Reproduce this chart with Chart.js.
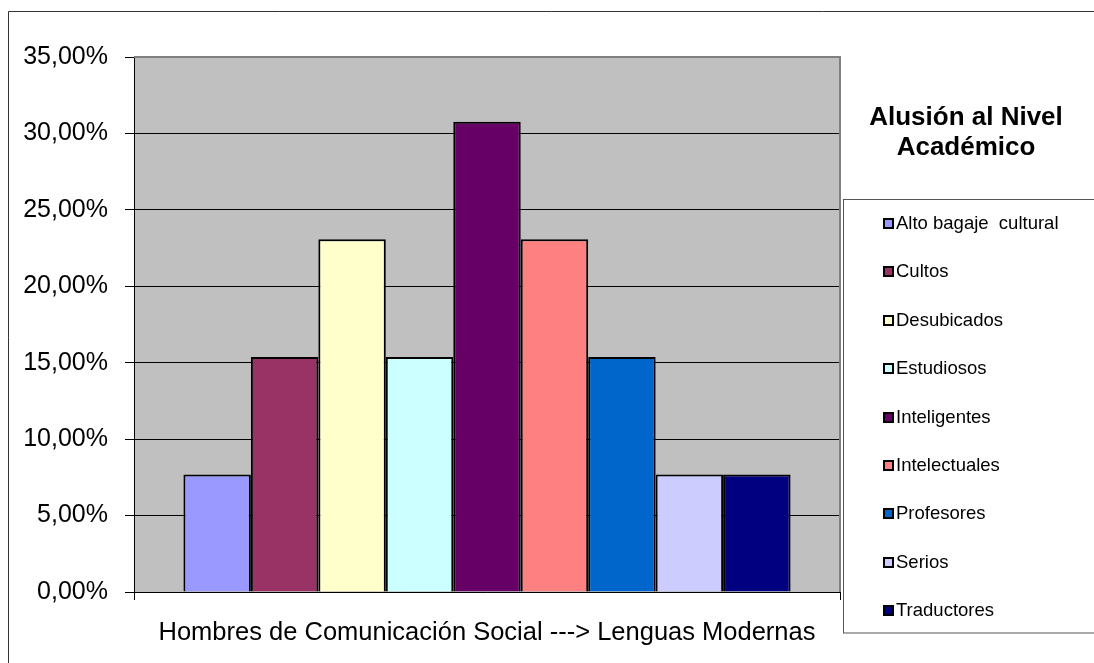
<!DOCTYPE html>
<html>
<head>
<meta charset="utf-8">
<script src="https://cdn.jsdelivr.net/npm/chart.js@4.4.1/dist/chart.umd.min.js"></script>
<style>
    html, body { margin: 0; padding: 0; background: #fff; }
    #contenedor { position: relative; width: 1094px; height: 663px; }
</style>
</head>
<body>
<div id="contenedor"><canvas id="chartNivelAcademico"></canvas></div>
<script>
var categorias = [''];
var series = [
    'Alto bagaje  cultural', 'Cultos', 'Desubicados', 'Estudiosos', 'Inteligentes',
    'Intelectuales', 'Profesores', 'Serios', 'Traductores'
];
var porcentajes = [7.69, 15.38, 23.08, 15.38, 30.77, 23.08, 15.38, 7.69, 7.69];
var colores = [
    '#9999FF', '#993366', '#FFFFCC', '#CCFFFF', '#660066',
    '#FF8080', '#0066CC', '#CCCCFF', '#000080'
];
var marcasY = [0, 5, 10, 15, 20, 25, 30, 35];
var tituloLeyenda = ['Alusión al Nivel', 'Académico'];
var tituloEjeX = 'Hombres de Comunicación Social ---> Lenguas Modernas';

var fuente = 'Arial, "Liberation Sans", sans-serif';

// fondo gris del área de trazado y marco exterior
const fondo = {
    id: 'fondo',
    beforeDraw(chart) {
        const ctx = chart.ctx, a = chart.chartArea;
        ctx.save();
        ctx.fillStyle = '#C0C0C0';
        ctx.fillRect(a.left, a.top, a.right - a.left, a.bottom - a.top);
        ctx.strokeStyle = '#333';
        ctx.lineWidth = 1;
        ctx.beginPath();
        ctx.moveTo(8.5, 663);
        ctx.lineTo(8.5, 11.5);
        ctx.lineTo(1094, 11.5);
        ctx.stroke();
        ctx.restore();
    },
    beforeDatasetsDraw(chart) {
        const ctx = chart.ctx, a = chart.chartArea;
        ctx.save();
        ctx.strokeStyle = '#808080';
        ctx.lineWidth = 2;
        ctx.beginPath();
        ctx.moveTo(a.left, a.top);
        ctx.lineTo(a.right, a.top);
        ctx.lineTo(a.right, a.bottom);
        ctx.stroke();
        ctx.restore();
    }
};

// leyenda con recuadro y título a la derecha
const leyenda = {
    id: 'leyenda',
    afterDraw(chart) {
        const ctx = chart.ctx;
        ctx.save();
        ctx.fillStyle = '#000';
        ctx.textAlign = 'center';
        ctx.textBaseline = 'middle';
        ctx.font = 'bold 26px ' + fuente;
        tituloLeyenda.forEach((t, i) => ctx.fillText(t, 966, 118 + i * 30));

        ctx.strokeStyle = '#555';
        ctx.lineWidth = 1;
        ctx.strokeRect(843.5, 199.5, 260, 433.5);

        ctx.textAlign = 'left';
        ctx.font = '18.5px ' + fuente;
        chart.data.datasets.forEach((ds, i) => {
            const y = Math.round(223 + i * 48.4);
            ctx.fillStyle = '#000';
            ctx.fillRect(883, y - 5, 11, 11);
            ctx.fillStyle = ds.backgroundColor;
            ctx.fillRect(885, y - 3, 7, 7);
            ctx.fillStyle = '#000';
            ctx.fillText(ds.label, 896, y + 1);
        });
        ctx.restore();
    }
};

const cnv = document.getElementById('chartNivelAcademico');
const chartNivelAcademico = new Chart(cnv, {
    type: 'bar',
    plugins: [fondo, leyenda],
    data: {
        labels: categorias,
        datasets: series.map((s, i) => ({
            label: s,
            data: [porcentajes[i]],
            backgroundColor: colores[i],
            borderColor: '#000',
            borderWidth: 2,
            borderSkipped: 'start',
            inflateAmount: 0,
            categoryPercentage: 0.86,
            barPercentage: 1,
        })),
    },
    options: {
        responsive: true,
        maintainAspectRatio: false,
        animation: false,
        layout: { padding: { left: 0, top: 57, right: 254, bottom: 0 } },
        plugins: {
            legend: { display: false },
            tooltip: { enabled: false },
        },
        scales: {
            x: {
                grid: {
                    display: true,
                    drawOnChartArea: false,
                    offset: true,
                    tickLength: 8,
                    color: '#000',
                },
                border: { color: '#000', width: 1 },
                ticks: { display: false },
                title: {
                    display: true,
                    text: tituloEjeX,
                    color: '#000',
                    font: { family: fuente, size: 25.5 },
                    padding: { top: 0, bottom: 15 },
                },
                afterFit: (scale) => { scale.height = 71; },
            },
            y: {
                min: 0,
                max: 35,
                afterBuildTicks: (scale) => {
                    scale.ticks = marcasY.map((v) => ({ value: v }));
                },
                grid: {
                    color: '#000',
                    lineWidth: 1,
                    tickLength: 9,
                },
                border: { color: '#000', width: 1 },
                ticks: {
                    padding: 17,
                    color: '#000',
                    font: { family: fuente, size: 25 },
                    callback: (v) => v.toFixed(2).replace('.', ',') + '%',
                },
                afterFit: (scale) => { scale.width = 134; },
            },
        },
    },
});
</script>
</body>
</html>
